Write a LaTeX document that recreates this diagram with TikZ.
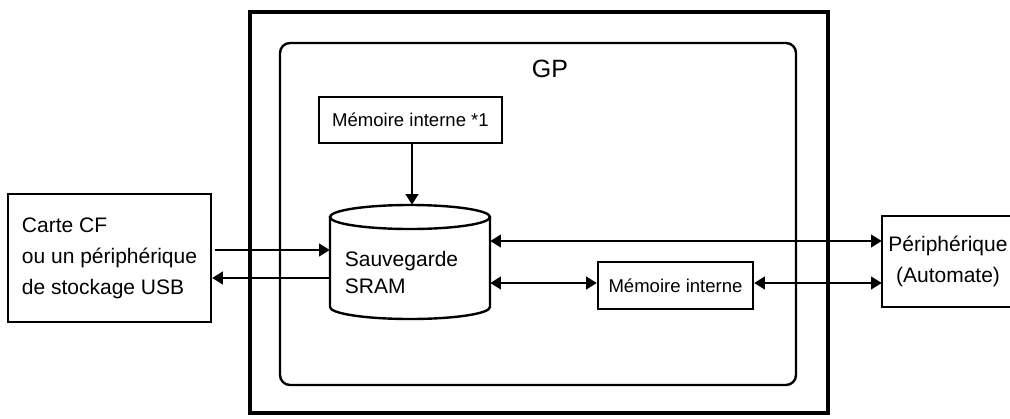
\documentclass[tikz,border=0pt]{standalone}
\usepackage{fontspec}
\setmainfont{Liberation Sans}
\usetikzlibrary{arrows.meta}

\tikzset{
  box/.style={draw, line width=1.8pt, inner sep=0pt},
  bigtext/.style={font=\fontsize{15.75}{23.25}\selectfont},
  smalltext/.style={font=\fontsize{13.9}{17}\selectfont},
  tip/.style={Triangle[length=8pt,width=9.5pt]},
  arr/.style={line width=1.6pt, -{Triangle[length=8pt,width=9.5pt]}},
  darr/.style={line width=1.6pt, {Triangle[length=8pt,width=9.5pt]}-{Triangle[length=8pt,width=9.5pt]}},
  cyl/.style={line width=1.8pt},
}

\begin{document}
\begin{tikzpicture}[x=0.75pt, y=-0.75pt]
  \useasboundingbox (0,0) rectangle (1010,418);
  \clip (0,0) rectangle (1010,418);
  \fill[white] (0,0) rectangle (1010,418);

  % display unit frame and GP board
  \node[draw, line width=3.2pt, minimum width=433.5pt, minimum height=300.75pt] (frame) at (539,212.5) {};
  \node[draw, line width=1.8pt, rounded corners=7.5pt, minimum width=387pt, minimum height=256.5pt] (gp) at (538,214) {};
  \node[font=\fontsize{18.75}{22}\selectfont, inner sep=0pt] (gplabel) at (550,69) {GP};

  % storage blocks
  \node[box, smalltext, minimum width=137.25pt, minimum height=34.5pt] (mem1) at (410.5,120) {Mémoire interne *1};
  \node[box, smalltext, minimum width=116.25pt, minimum height=35.25pt] (mem) at (675.5,285.5) {Mémoire interne};
  \node[box, bigtext, align=left, minimum width=152.25pt, minimum height=96pt] (carte) at (109.5,258)
    {Carte CF\\ou un périphérique\\de stockage USB};
  % controller box runs off the right edge
  \node[bigtext, align=center, inner sep=0pt, minimum width=99pt, minimum height=68.25pt] (peri) at (948,261.5)
    {Périphérique\\(Automate)};
  \draw[line width=1.8pt] (peri.north -| 1030,0) -- (peri.north west) -- (peri.south west) -- (peri.south -| 1030,0);

  % SRAM backup cylinder
  \node[minimum width=120pt, minimum height=85.5pt, inner sep=0pt] (sram) at (410,262) {};
  \draw[cyl] (330,217) -- (330,307) arc[start angle=180, end angle=0, x radius=80, y radius=12] -- (490,217);
  \draw[cyl] (410,217) ellipse[x radius=80, y radius=12];
  \node[font=\fontsize{15.75}{20.25}\selectfont, align=left, inner sep=0pt] (sramtext) at (401.5,272) {Sauvegarde\\SRAM};

  % data paths
  \draw[arr] (mem1.south -| 412,0) -- (sram.north -| 412,0);
  \draw[arr] (carte.east |- 0,250) ++(3,0) -- (sram.west |- 0,250);
  \draw[arr] (sram.west |- 0,278) -- (carte.east |- 0,278);
  \draw[darr] (sram.east |- 0,241) -- (peri.west |- 0,241);
  \draw[darr] (sram.east |- 0,283) -- (mem.west |- 0,283);
  \draw[darr] (mem.east |- 0,283) -- (peri.west |- 0,283);
\end{tikzpicture}
\end{document}
